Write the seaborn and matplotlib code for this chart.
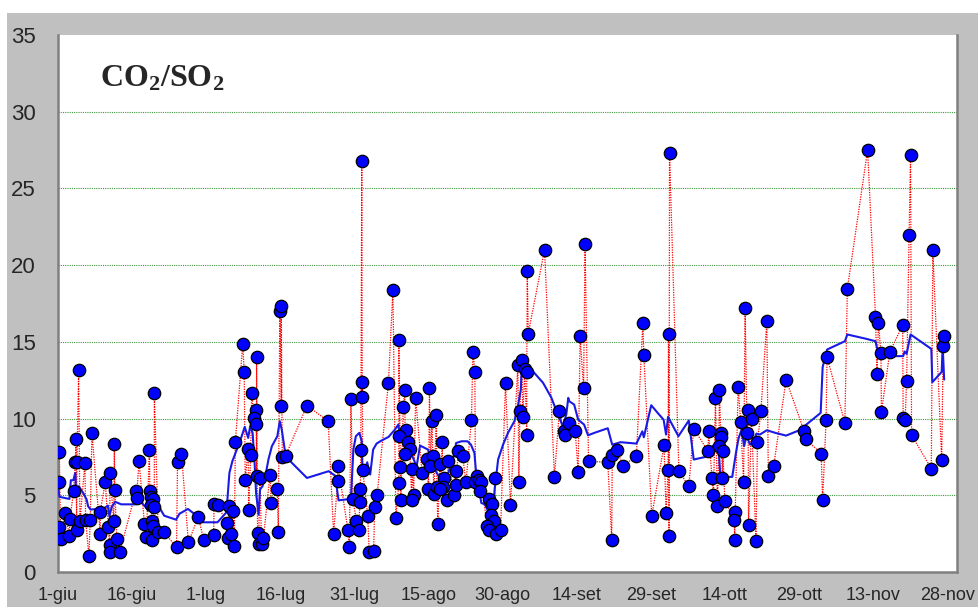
import matplotlib
matplotlib.use('Agg')
import matplotlib.pyplot as plt
import pandas as pd
import seaborn as sns
from matplotlib.patches import Rectangle

# CO2/SO2 ratio samples (day counted from 1 June) and running mean
days = [0.27, 0.13, 0.13, 0.54, 1.48, 2.42, 2.29, 3.16, 3.5, 3.64, 4.18, 3.84, 3.77, 4.44,
        5.45, 5.59, 6.26, 6.53, 6.87, 8.55, 8.55, 9.56, 10.5, 10.2, 10.5, 10.5, 11.4, 11.5,
        11.3, 11.9, 12.5, 15.8, 15.9, 16.4, 17.5, 17.9, 18.5, 18.6, 18.9, 19.3, 18.9, 19.5,
        19.5, 19.1, 19.3, 19.0, 20.3, 21.5, 24.0, 24.2, 25.0, 26.4, 28.4, 29.5, 31.5, 31.6,
        32.3, 34.2, 34.7, 35.5, 34.5, 35.0, 35.7, 35.9,
        37.4, 37.7, 39.2, 38.5, 39.0, 37.9, 38.6, 40.2, 40.1, 39.7, 40.0, 40.2, 40.9, 40.4,
        40.6, 41.2, 41.6, 42.9, 43.2, 44.4, 44.6, 44.9, 45.2, 45.2, 45.4, 46.1, 50.4, 54.7,
        55.8, 56.7, 56.6, 58.7, 59.0, 59.3, 59.7, 60.4, 60.9, 61.5, 61.6, 61.6, 61.3, 61.2,
        61.1, 61.7, 62.7, 63.0, 63.9, 64.1, 64.6, 66.9, 67.8, 69.0, 70.2, 69.9, 70.4, 69.0,
        70.9, 71.2, 70.3, 69.3, 69.0, 69.4, 68.4, 72.4, 71.7, 72.0, 71.6,
        73.7, 75.2, 74.7, 75.7, 76.6, 75.9, 75.4, 75.0, 76.1, 76.9, 76.7, 77.3, 77.8, 78.2,
        77.9, 77.4, 78.7, 79.0, 80.2, 80.6, 80.5, 81.0, 81.9, 82.6, 83.7, 84.0, 84.4, 84.9,
        84.5, 85.3, 85.7, 85.4, 87.3, 87.9, 87.6, 88.2, 86.9, 87.2, 88.4, 88.6, 89.6, 90.6,
        91.6, 93.3, 93.1, 93.9, 93.5, 94.1, 94.9, 94.5, 94.9, 95.0, 95.2, 98.5, 100.5, 101.5,
        102.4, 102.6, 103.5, 104.7, 105.3, 105.7, 106.4, 106.7, 107.4,
        111.3, 112.2, 113.2, 112.1, 114.4, 117.1, 118.4, 118.6, 120.2, 122.7, 123.1, 123.5,
        123.7, 123.6, 123.8, 125.7, 127.7, 128.7, 131.7, 131.6, 132.4, 132.7, 133.5, 133.1,
        133.9, 134.2, 134.2, 133.8, 134.6, 134.5, 135.0, 137.1, 136.9, 137.0, 137.7, 138.2,
        138.8, 139.1, 139.7, 140.4, 139.5, 139.8, 141.6, 142.3, 141.3, 143.5, 143.8, 144.9,
        147.4, 151.0, 151.4, 154.5, 154.8, 155.7, 155.5, 159.3, 159.8, 163.9, 165.5, 166.1,
        165.8, 166.6, 166.7, 168.4, 171.0, 171.8, 171.1, 171.5, 172.3, 172.6, 172.8, 177.1,
        176.8, 178.9, 179.2, 179.4]
ratio = [7.83, 5.89, 2.93, 2.13, 3.85, 3.46, 2.37, 5.28, 7.2, 8.67, 13.15, 7.2, 2.76, 3.3,
         7.13, 3.41, 1.02, 3.41, 9.04, 3.91, 2.5, 5.85, 6.46, 2.93, 1.74, 1.3, 8.33, 5.33,
         3.35, 2.17, 1.3, 5.28, 4.83, 7.24, 3.15, 2.26, 7.93, 5.26, 4.89, 4.78, 4.39, 11.65,
         4.24, 3.3, 2.98, 2.11, 2.59, 2.59, 1.61, 7.2, 7.72, 1.93, 3.59, 2.11, 2.41, 4.41,
         4.37, 3.2, 4.33, 4.0, 2.22, 2.48, 1.72, 8.46,
         14.87, 13.04, 11.65, 8.02, 7.63, 6.02, 4.02, 14.04, 10.54, 10.04, 9.63, 6.24, 6.13, 2.54,
         1.8, 1.85, 2.22, 6.3, 4.52, 5.41, 2.63, 17.0, 17.33, 10.85, 7.48, 7.59, 10.85, 9.83,
         2.48, 6.93, 5.93, 2.72, 1.63, 11.26, 4.76, 3.35, 2.72, 26.76, 12.37, 11.43, 7.98, 5.41,
         4.54, 6.63, 3.67, 1.28, 1.37, 4.22, 5.02, 12.33, 18.39, 15.15, 11.83, 10.76, 9.24, 8.85,
         8.46, 8.02, 7.7, 6.87, 5.78, 4.72, 3.54, 11.35, 6.74, 5.0, 4.72,
         6.46, 11.96, 7.37, 9.87, 10.24, 7.59, 6.93, 5.41, 5.07, 3.15, 5.54, 7.04, 8.46, 6.15,
         5.54, 5.41, 4.72, 7.22, 5.02, 5.65, 6.61, 7.87, 7.59, 5.85, 9.93, 14.35, 13.04, 6.24,
         5.85, 6.02, 5.85, 5.26, 4.76, 4.41, 3.72, 3.35, 2.98, 2.72, 6.13, 2.46, 2.72, 12.35,
         4.35, 5.85, 13.52, 13.85, 10.48, 10.11, 8.93, 13.24, 13.04, 19.59, 15.54, 21.0, 6.22, 10.48,
         9.17, 8.91, 9.72, 9.22, 6.52, 15.35, 11.96, 21.39, 7.22,
         7.15, 7.65, 7.93, 2.11, 6.89, 7.59, 16.24, 14.13, 3.67, 8.26, 3.85, 6.63,
         2.33, 15.48, 27.33, 6.57, 5.59, 9.35, 9.22, 7.87, 6.13, 5.0, 4.33, 11.35,
         11.85, 9.07, 8.78, 8.2, 7.91, 6.13, 4.65, 3.93, 3.39, 2.11, 12.07, 9.8,
         5.85, 17.22, 10.59, 9.98, 9.07, 3.09, 8.46, 10.48, 2.0, 16.37, 6.24, 6.93,
         12.54, 9.22, 8.65, 7.72, 4.72, 14.0, 9.89, 9.72, 18.46, 27.5, 16.63, 16.24,
         12.93, 14.26, 10.43, 14.35, 16.09, 12.43, 10.02, 9.91, 21.98, 27.2, 8.93, 21.0,
         6.74, 7.28, 14.72, 15.35]

avg_days = [0, 0.3, 1.3, 2.3, 2.6, 3.1, 3.5, 3.6, 4.2, 5.1, 5.8, 6.1, 6.6, 8.1, 8.8, 9.4,
            10.1, 10.4, 10.9, 11.6, 12.8, 15.7, 16.5, 18.2, 19.0, 20.3, 21.5, 23.9, 24.6, 26.3,
            28.4, 29.3, 32.3, 34.1, 34.7, 35.3, 36.7, 37.3, 37.8, 38.5, 38.9, 39.4, 39.8, 40.1,
            40.6, 40.9, 41.4, 42.1, 42.6, 43.3, 44.4, 44.9, 45.3, 45.9, 46.7, 47.7, 50.4, 54.8,
            56.1, 56.8, 58.1, 59.3, 59.8, 60.3, 61.0, 61.5, 61.6, 62.1, 62.6, 63.2, 63.8, 64.5,
            65.5, 66.9, 68.2, 68.9, 69.2, 69.9, 70.6, 71.6, 72.6, 73.3, 74.9, 75.7, 76.3, 77.7,
            79.0, 80.2, 80.6, 81.7, 82.9, 83.6, 84.3, 84.7, 85.3, 85.7, 86.4, 87.1, 87.9, 88.4,
            89.1, 90.1, 91.1, 92.4, 93.1, 93.7, 93.9, 94.8, 95.3, 95.7, 98.2, 99.9, 100.8, 102.2,
            102.9, 103.3, 103.5, 104.5, 105.3, 106.5, 107.3, 108.6, 111.3, 112.2, 113.9, 117.1,
            118.3, 118.6, 120.1, 121.4, 122.6, 123.1, 123.5, 125.6, 127.7, 128.7, 131.6, 132.6,
            133.3, 133.8, 134.1, 135.3, 136.5, 137.3, 137.8, 138.4, 138.9, 139.4, 140.1, 140.7,
            141.4, 142.1, 143.5, 145.2, 147.4, 150.1, 154.4, 154.8, 155.7, 159.3, 159.8, 163.6,
            165.5, 165.8, 166.6, 168.4, 171.1, 171.4, 171.8, 172.6, 176.8, 177.0, 178.9, 179.1,
            179.4]
avg_ratio = [5.59, 4.9, 4.83, 4.76, 5.98, 5.98, 6.46, 5.48, 5.59, 5.15, 4.72, 4.28, 4.07, 4.11,
             4.02, 4.17, 4.33, 3.63, 4.28, 4.57, 4.41, 4.41, 4.67, 4.07, 4.83, 4.33, 3.67, 3.41,
             3.8, 4.11, 3.59, 3.24, 3.24, 3.89, 6.46, 7.22, 8.41, 8.96, 9.46, 8.74, 9.5, 9.07,
             7.11, 5.15, 3.74, 5.37, 5.59, 6.46, 7.33, 8.2, 8.85, 9.83, 9.28, 7.98, 7.33, 7.0,
             6.13, 6.57, 6.28, 4.67, 4.72, 4.78, 7.98, 8.85, 9.07, 8.52, 6.78, 6.67, 7.15, 6.35,
             7.98, 8.37, 8.57, 8.8, 9.28, 9.61, 8.85, 8.52, 8.09, 7.65, 6.89, 8.24, 7.98, 7.11,
             6.67, 5.91, 6.46, 7.65, 8.41, 8.52, 8.52, 8.3, 7.76, 6.24, 5.26, 4.5, 4.41, 3.96,
             3.2, 5.37, 7.33, 8.3, 9.07, 9.83, 10.8, 11.89, 13.52, 13.41, 12.65, 13.24, 12.33,
             11.35, 10.59, 9.5, 10.26, 11.35, 11.13, 10.91, 9.93, 9.61, 8.91, 9.07, 9.37, 8.3,
             8.46, 8.37, 9.17, 8.78, 10.87, 10.37, 9.93, 8.96, 10.11, 8.85, 9.87, 7.33, 7.54,
             8.24, 8.3, 7.76, 6.2, 6.2, 6.2, 7.87, 8.74, 9.28, 8.2, 8.89, 8.3, 8.46, 9.02, 8.96,
             9.24, 9.07, 8.89, 9.24, 10.37, 13.35, 14.5, 15.04, 15.48, 15.2, 15.04, 14.61, 14.07,
             14.07, 14.07, 14.37, 14.22, 15.48, 14.54, 12.37, 13.04, 14.72, 12.54]

tick_days = [0, 15, 30, 45, 60, 75, 90, 105, 120, 135, 150, 165, 180]
tick_labels = ['1-giu', '16-giu', '1-lug', '16-lug', '31-lug', '15-ago', '30-ago',
               '14-set', '29-set', '14-ott', '29-ott', '13-nov', '28-nov']

pts = pd.DataFrame({'day': days, 'ratio': ratio})
avg = pd.DataFrame({'day': avg_days, 'ratio': avg_ratio})

sns.set_style('white')
plt.rcParams['font.family'] = ['Liberation Sans', 'DejaVu Sans']
plt.rcParams['mathtext.fontset'] = 'custom'
plt.rcParams['mathtext.rm'] = 'Liberation Serif:bold'
plt.rcParams['mathtext.it'] = 'Liberation Serif:bold'
plt.rcParams['mathtext.bf'] = 'Liberation Serif:bold'

fig = plt.figure(figsize=(9.79, 6.07), dpi=100)
fig.patch.set_facecolor('white')
fig.add_artist(Rectangle((7 / 979, 0), 1, 1 - 13 / 607, transform=fig.transFigure,
                         facecolor='#c0c0c0', edgecolor='none', zorder=-10))
ax = fig.add_axes([58 / 979, 1 - 572 / 607, 899 / 979, 537 / 607])
ax.set_facecolor('white')

# green dotted grid
for v in range(5, 35, 5):
    ax.axhline(v, color='#3c9a3c', linestyle=(0, (1, 1)), linewidth=0.8, zorder=1)

sns.lineplot(data=pts, x='day', y='ratio', estimator=None, color='red', linewidth=0.9,
             linestyle=(0, (1, 1)), ax=ax, zorder=2)
sns.lineplot(data=avg, x='day', y='ratio', estimator=None, color='#1a1ae6', linewidth=1.5,
             ax=ax, zorder=3)
sns.scatterplot(data=pts, x='day', y='ratio', color='#0000ff', edgecolor='black',
                linewidth=0.9, s=80, ax=ax, zorder=4)

ax.set_xlim(0, 182)
ax.set_ylim(0, 35)
ax.set_yticks(range(0, 40, 5))
ax.set_xticks(tick_days)
ax.set_xticklabels(tick_labels)
ax.tick_params(axis='y', labelsize=16, length=8, width=1.2, color='#808080', pad=8)
ax.tick_params(axis='x', labelsize=13, length=8, width=1.2, color='#808080', pad=3)
ax.set_xlabel('')
ax.set_ylabel('')
for side in ['left', 'bottom', 'right']:
    ax.spines[side].set_color('#808080')
    ax.spines[side].set_linewidth(1.8)
ax.spines['top'].set_visible(False)

ax.text(0.047, 0.905, r'$\mathregular{CO_2/SO_2}$', transform=ax.transAxes, fontsize=23,
        fontweight='bold', family='Liberation Serif', va='baseline')

fig.savefig('out.png', dpi=100)
